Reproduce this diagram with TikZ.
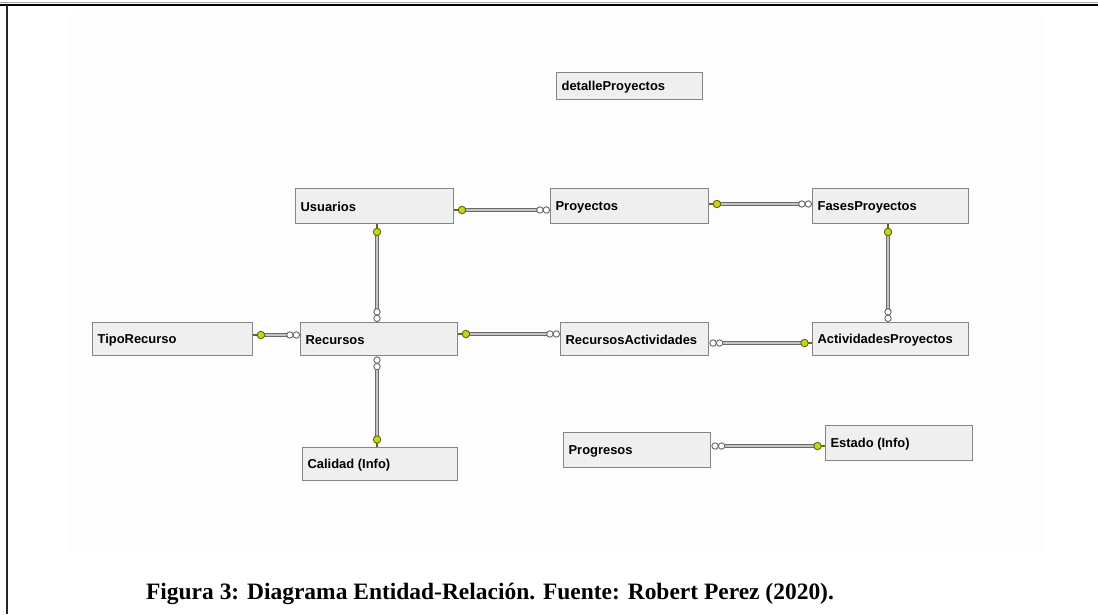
\documentclass[tikz,border=0pt]{standalone}
\usepackage{fontspec}
\setmainfont{Liberation Serif}
\newfontfamily\tblfont{Liberation Sans}
\usetikzlibrary{decorations.markings}

\definecolor{boxfill}{HTML}{EFEFEF}
\definecolor{boxline}{HTML}{858585}
\definecolor{linkline}{HTML}{6A6A6A}
\definecolor{linkcore}{HTML}{C4C4C4}
\definecolor{keyfill}{HTML}{C8D41C}
\definecolor{keyline}{HTML}{5F6A10}
\definecolor{paneltint}{HTML}{FDFDFD}

% one-side marker: key stub and yellow-green disc
\newcommand\keymark{%
  \draw[keyline, line width=1.2pt, shorten <=0pt, shorten >=0pt] (0pt,0pt) -- (3pt,0pt);
  \draw[keyline, line width=0.7pt, fill=keyfill] (5.6pt,0pt) circle[radius=2.8pt];
}
% many-side marker: infinity sign made of two rings
\newcommand\manymark{%
  \draw[linkline, line width=0.7pt, fill=white] (-2.7pt,0pt) circle[radius=2.4pt];
  \draw[linkline, line width=0.7pt, fill=white] (-7.6pt,0pt) circle[radius=2.4pt];
}

\tikzset{
  tbl/.style 2 args={draw=boxline, fill=boxfill, line width=1.1pt,
    minimum width=#1*0.75pt, minimum height=#2*0.75pt, inner sep=0pt,
    anchor=north west},
  tname/.style={anchor=west, inner xsep=4pt, inner ysep=0pt, yshift=-0.6pt,
    font=\tblfont\bfseries\fontsize{9.7}{11}\selectfont},
  linkbar/.style={draw=linkline, line width=0.6pt, double=linkcore,
    double distance=1.3pt, shorten <=7pt, shorten >=10pt},
  linkends/.style={decoration={markings,
      mark=at position 0 with {\keymark},
      mark=at position 1 with {\manymark}}, decorate},
  caption/.style={anchor=base, inner sep=0pt,
    font=\bfseries\fontsize{17.6}{20}\selectfont}
}

% relationship: key end first, many end second
\newcommand\relate[2]{%
  \draw[linkbar] #1 -- #2;
  \path[linkends] #1 -- #2;
}

\begin{document}
\begin{tikzpicture}[x=0.75pt, y=-0.75pt]
  \useasboundingbox (0,0) rectangle (1098,614);
  \fill[white] (0,0) rectangle (1098,614);
  \fill[paneltint] (68,14) rectangle (1044,553);

  % page frame
  \draw[black!35, line width=0.6pt] (0,2.6) -- (1098,2.6);
  \draw[black, line width=1.4pt] (0,4.6) -- (1098,4.6);
  \draw[black!85, line width=1.1pt] (7,4.6) -- (7,614);

  % tables
  \node[tbl={146}{27}, label={[tname]west:detalleProyectos}] (det) at (556,72) {};
  \node[tbl={158}{35}, label={[tname]west:Usuarios}] (usu) at (295,188) {};
  \node[tbl={158}{35}, label={[tname]west:Proyectos}] (pro) at (550,188) {};
  \node[tbl={156}{35}, label={[tname]west:FasesProyectos}] (fas) at (812,188) {};
  \node[tbl={160}{33}, label={[tname]west:TipoRecurso}] (tip) at (92,322) {};
  \node[tbl={157}{33}, label={[tname]west:Recursos}] (rec) at (300,322) {};
  \node[tbl={148}{33}, label={[tname]west:RecursosActividades}] (ra) at (560,322) {};
  \node[tbl={156}{33}, label={[tname]west:ActividadesProyectos}] (act) at (812,322) {};
  \node[tbl={155}{33}, label={[tname]west:Calidad (Info)}] (cal) at (302,447) {};
  \node[tbl={147}{35}, label={[tname]west:Progresos}] (prg) at (563,432) {};
  \node[tbl={147}{35}, label={[tname]west:Estado (Info)}] (est) at (825,425) {};

  % relationships
  \relate{(usu.east |- 0,210)}{(pro.west |- 0,210)}
  \relate{(pro.east |- 0,204)}{(fas.west |- 0,204)}
  \relate{(fas.south -| 888,0)}{(act.north -| 888,0)}
  \relate{(usu.south -| 377,0)}{(rec.north -| 377,0)}
  \relate{(tip.east |- 0,335)}{(rec.west |- 0,335)}
  \relate{(rec.east |- 0,334)}{(ra.west |- 0,334)}
  \relate{(act.west |- 0,343)}{(ra.east |- 0,343)}
  \relate{(cal.north -| 377,0)}{(rec.south -| 377,0)}
  \relate{(est.west |- 0,446)}{(prg.east |- 0,446)}

  % caption
  \node[caption] (cap) at (490,599)
    {Figura 3: Diagrama Entidad-Relación. Fuente: Robert Perez (2020).};
\end{tikzpicture}
\end{document}
